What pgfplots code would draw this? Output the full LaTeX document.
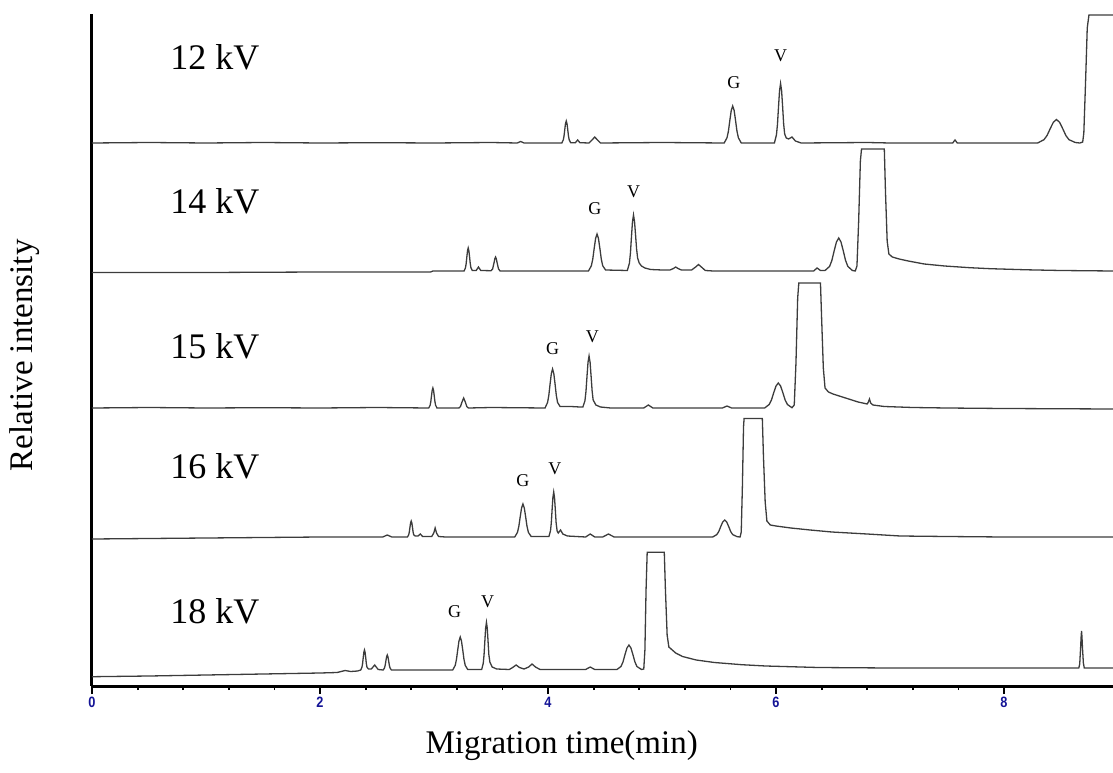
\documentclass[border=0pt]{standalone}
\usepackage{fontspec}
\setmainfont{Liberation Serif}
\newfontfamily\tickfont[FakeStretch=0.85]{Liberation Sans}
\usepackage{pgfplots}
\usepackage{pgfplotstable}
\pgfplotsset{compat=1.18}

\definecolor{tickblue}{RGB}{20,20,150}
\definecolor{trace}{RGB}{60,60,60}

% Electropherograms at five separation voltages (intensity above each baseline)
% 12 kV
\pgfplotstableread{
t i
0 0
0.5 0.5
1.0 0
1.5 0.5
2.0 0
2.5 0.3
3.0 0
3.5 0.5
3.73 0
3.76 1.5
3.79 0
4.121 0
4.134 3.1
4.1405 7
4.147 13.4
4.1535 19.4
4.16 22
4.1665 19.4
4.173 13.4
4.1795 7
4.186 3.1
4.199 0.3
4.24 0.3
4.26 3
4.28 0.3
4.36 0
4.39 3.5
4.41 6
4.43 3.5
4.46 0
5.0 0.5
5.545 0
5.57 5.2
5.5825 11.8
5.595 22.6
5.6075 32.6
5.62 37
5.6325 32.6
5.645 22.6
5.6575 11.8
5.67 5.2
5.695 0
5.986 0
6.004 8.3
6.013 19
6.022 36.3
6.031 52.4
6.04 59.5
6.049 52.4
6.058 36.3
6.067 19
6.076 9
6.09 5
6.11 4
6.14 6
6.17 2
6.22 0
6.8 0.5
7.0 0
7.55 0
7.57 3
7.59 0
8.295 0
8.35 3.3
8.3775 7.5
8.405 14.3
8.4325 20.7
8.46 23.5
8.4875 20.7
8.515 14.3
8.5425 7.5
8.57 3.3
8.625 0.5
8.665 0
8.69 1
8.70 10
8.715 60
8.73 115
8.745 128
8.956 128
}\kvA

% 14 kV
\pgfplotstableread{
t i
0 -1.5
1.0 -1.5
2.0 -1
2.97 -1
2.99 0
3.264 0
3.276 3.2
3.282 7.4
3.288 14
3.294 20.2
3.30 23
3.306 20.2
3.312 14
3.318 7.4
3.324 3.2
3.336 0.5
3.37 0.5
3.39 4
3.41 0.5
3.50 0.3
3.514 2
3.527 8.5
3.5335 12.3
3.54 14
3.5465 12.3
3.553 8.5
3.566 2
3.58 0
4.00 0
4.355 0
4.38 5.2
4.3925 11.8
4.405 22.6
4.4175 32.6
4.43 37
4.4425 32.6
4.455 22.6
4.4675 11.8
4.48 5.2
4.505 1
4.696 0.5
4.714 7.8
4.723 17.9
4.732 34.2
4.741 49.3
4.75 56
4.759 49.3
4.768 36
4.777 22
4.786 13
4.80 8
4.82 5
4.85 3
4.90 1.5
5.00 1
5.07 1
5.10 2.5
5.12 4
5.14 2.5
5.17 1
5.26 1
5.295 4
5.32 6.5
5.345 4
5.38 0.5
5.45 0
6.0 0
6.33 0
6.36 3
6.39 0.5
6.43 0.5
6.47 4.6
6.49 10.6
6.51 20.1
6.53 29
6.55 33
6.57 29
6.59 20.1
6.61 10.6
6.63 4.6
6.67 0.5
6.695 0
6.71 5
6.725 50
6.74 110
6.75 122
6.95 122
6.96 80
6.975 30
6.99 17
7.02 14
7.08 12
7.16 10
7.30 7
7.48 5
7.70 3.3
7.88 2.3
8.2 1.2
8.5 0.5
8.956 0
}\kvB

% 15 kV
\pgfplotstableread{
t i
0 0
0.5 0.5
1.0 0
1.5 0.3
2.0 0
2.5 0.5
2.954 0
2.966 2.8
2.972 6.4
2.978 12.2
2.984 17.6
2.99 20
2.996 17.6
3.002 12.2
3.008 6.4
3.014 2.8
3.026 0
3.218 0
3.232 1.4
3.246 6.1
3.26 10
3.274 6.1
3.288 1.4
3.302 0
3.5 0.5
3.974 0
3.996 5.5
4.007 12.5
4.018 23.8
4.029 34.3
4.04 39
4.051 34.3
4.062 23.8
4.073 12.5
4.084 5.5
4.106 1.5
4.20 1.5
4.28 1
4.306 1
4.324 7.3
4.333 16.6
4.342 31.7
4.351 45.8
4.36 52
4.369 45.8
4.378 31.7
4.387 17
4.396 8
4.42 3
4.46 1
4.55 0
4.84 0
4.88 3
4.92 0
5.53 0
5.57 2
5.61 0
5.90 0
5.94 3.5
5.96 8
5.98 15.3
6.00 22
6.02 25
6.04 22
6.06 15.3
6.08 8
6.10 3.5
6.14 0.3
6.16 3
6.175 45
6.19 110
6.20 125
6.39 125
6.40 90
6.415 40
6.43 20
6.46 16
6.50 14
6.61 10
6.72 6
6.80 4
6.81 6
6.82 9
6.83 5
6.85 3
6.95 1.5
7.2 0.5
7.5 0
8.0 -0.5
8.956 -1
}\kvC

% 16 kV
\pgfplotstableread{
t i
0 -2
0.5 -1.5
1.0 -1
1.5 -0.5
2.0 0
2.55 0
2.59 2
2.63 0
2.767 0
2.778 2.2
2.7835 5.1
2.789 9.8
2.7945 14.1
2.80 16
2.8055 14.1
2.811 9.8
2.8165 5.1
2.822 2.2
2.835 1
2.86 1
2.88 3
2.90 0.5
2.98 0.5
2.998 4
3.01 9
3.022 4
3.04 0.5
3.10 0
3.708 0
3.732 4.6
3.744 10.6
3.756 20.1
3.768 29
3.78 33
3.792 29
3.804 20.1
3.816 10.6
3.828 4.6
3.852 0.5
3.95 0.5
4.008 0.5
4.022 6.3
4.029 14.4
4.036 27.5
4.043 39.6
4.05 45
4.057 39.6
4.064 27.5
4.071 14.4
4.08 6
4.09 4
4.11 7
4.13 3
4.17 1
4.25 0.5
4.33 0
4.35 1.5
4.37 3
4.39 1.5
4.41 0
4.48 0
4.505 1.5
4.53 3
4.555 1.5
4.58 0
5.0 0
5.445 0
5.48 2.4
5.4975 5.4
5.515 10.4
5.5325 15
5.55 17
5.5675 15
5.585 10.4
5.6025 5.4
5.62 2.4
5.66 0.3
5.685 0
5.695 5
5.705 50
5.715 110
5.72 118.5
5.88 118.5
5.89 80
5.905 35
5.92 16
5.95 12
6.00 11
6.13 9
6.30 7
6.49 5
6.80 3
7.09 1
7.5 0.5
8.0 0
8.956 0
}\kvD

% 18 kV
\pgfplotstableread{
t i
0 -6.7
0.5 -6
1.0 -5
1.5 -4
2.0 -3
2.15 -2.5
2.22 -0.5
2.27 -1.5
2.33 -1
2.357 0
2.368 2.8
2.3735 6.4
2.379 12.2
2.3845 17.6
2.39 20
2.3955 17.6
2.401 12.2
2.4065 6.4
2.412 2.8
2.425 1
2.45 1
2.48 5
2.51 0.5
2.554 0
2.566 2.1
2.572 4.8
2.578 9.2
2.584 13.2
2.59 15
2.596 13.2
2.602 9.2
2.608 4.8
2.614 2.1
2.626 0
3.164 0
3.186 4.6
3.197 10.6
3.208 20.1
3.219 29
3.23 33
3.241 29
3.252 20.1
3.263 10.6
3.274 4.6
3.296 0.5
3.38 0.5
3.418 0.5
3.432 6.7
3.439 15.2
3.446 29
3.453 41.9
3.46 47.6
3.467 41.9
3.474 29
3.481 15.5
3.49 8
3.51 3
3.55 1
3.66 0.5
3.69 2.5
3.72 5
3.75 2.5
3.79 1
3.83 3
3.86 6
3.89 3
3.93 0.5
4.33 0.5
4.37 3
4.41 0.5
4.605 0.5
4.64 3.5
4.6575 8
4.675 15.3
4.6925 22
4.71 25
4.7275 22
4.745 15.3
4.7625 8
4.78 3.5
4.82 0.5
4.84 1
4.85 20
4.86 80
4.87 117.7
5.02 117.7
5.03 80
5.045 35
5.06 23
5.12 17
5.18 13.5
5.30 10
5.46 7.5
5.70 5.3
5.91 4
6.37 2.5
7.0 2
8.656 2
8.664 6
8.672 22.6
8.676 32.6
8.68 39
8.684 32.6
8.688 22.6
8.696 7
8.704 2
8.956 2
}\kvE

\begin{document}
\begin{tikzpicture}
\begin{axis}[
  at={(0,0)}, anchor=origin,
  x=57pt, y=0.5pt,
  xmin=0, xmax=8.956, ymin=0, ymax=672,
  axis lines*=left,
  axis line style={line width=1.5pt, black},
  xtick={0,2,4,6,8},
  minor x tick num=4,
  ytick=\empty,
  tick align=outside,
  major tick length=4pt,
  minor tick length=2pt,
  every tick/.append style={black, line width=1pt},
  every minor tick/.append style={black, line width=0.9pt},
  /pgf/number format/assume math mode=true,
  xticklabel style={font=\tickfont\bfseries\fontsize{7.5}{8}\selectfont, text=tickblue, inner sep=1.5pt},
  xlabel={Migration time(min)},
  xlabel style={at={(axis description cs:0.460,-0.0997)}, anchor=base, font=\fontsize{16.5}{18}\selectfont},
  ylabel={Relative intensity},
  ylabel style={at={(axis description cs:-0.0656,0.492)}, anchor=center, font=\fontsize{16.5}{18}\selectfont},
  clip=false,
]
\addplot[trace, line width=0.65pt] table[x=t, y expr=\thisrow{i}+543] {\kvA};
\addplot[trace, line width=0.65pt] table[x=t, y expr=\thisrow{i}+415] {\kvB};
\addplot[trace, line width=0.65pt] table[x=t, y expr=\thisrow{i}+278] {\kvC};
\addplot[trace, line width=0.65pt] table[x=t, y expr=\thisrow{i}+149] {\kvD};
\addplot[trace, line width=0.65pt] table[x=t, y expr=\thisrow{i}+16] {\kvE};

% voltage labels
\begin{scope}[every node/.style={anchor=base west, inner sep=0pt, font=\fontsize{18}{20}\selectfont}]
\node at (axis cs:0.684,616) {12 kV};
\node at (axis cs:0.684,473) {14 kV};
\node at (axis cs:0.684,328) {15 kV};
\node at (axis cs:0.684,208) {16 kV};
\node at (axis cs:0.684,63) {18 kV};
\end{scope}

% peak assignments
\begin{scope}[every node/.style={font=\fontsize{9}{10}\selectfont, inner sep=0pt}]
\node at (axis cs:5.63,603) {G};
\node at (axis cs:6.04,630) {V};
\node at (axis cs:4.41,477) {G};
\node at (axis cs:4.75,494) {V};
\node at (axis cs:4.04,337) {G};
\node at (axis cs:4.39,349) {V};
\node at (axis cs:3.78,205) {G};
\node at (axis cs:4.06,217) {V};
\node at (axis cs:3.18,74) {G};
\node at (axis cs:3.47,84) {V};
\end{scope}
\end{axis}
\pgfresetboundingbox
\useasboundingbox (-46pt,-43pt) rectangle (510.5pt,343pt);
\end{tikzpicture}
\end{document}
